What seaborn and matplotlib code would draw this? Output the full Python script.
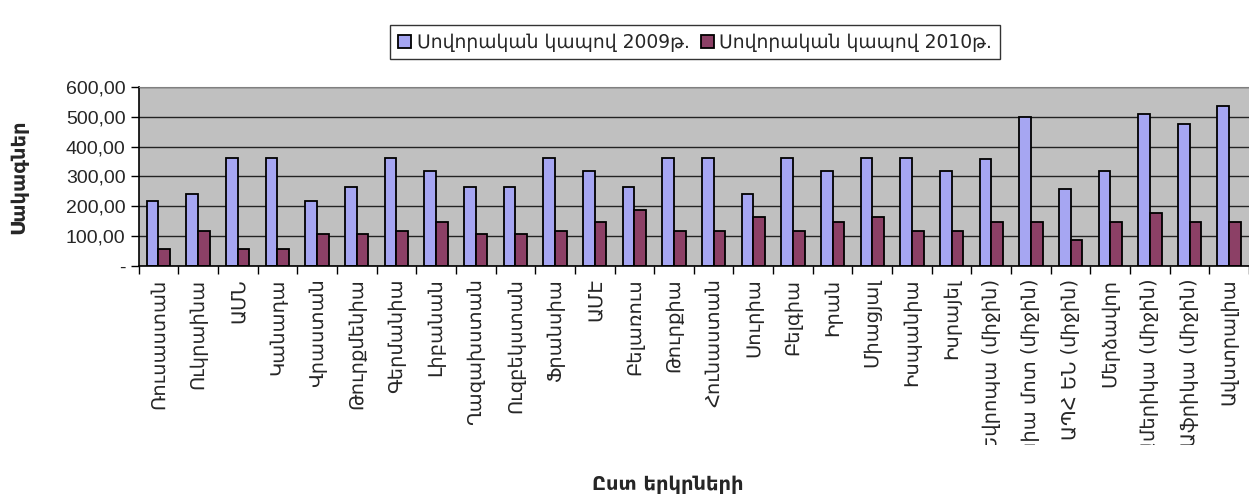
import numpy as np
import pandas as pd
import matplotlib
matplotlib.use("Agg")
import matplotlib.pyplot as plt
from matplotlib.ticker import FixedLocator, FuncFormatter
from matplotlib.transforms import Bbox
import seaborn as sns

countries = [
    "Ռուսաստան", "Ուկրաինա", "ԱՄՆ", "Կանադա", "Վրաստան", "Թուրքմենիա",
    "Գերմանիա", "Լիբանան", "Ղազախստան", "Ուզբեկստան", "Ֆրանսիա", "ԱՄԷ",
    "Բելառուս", "Թուրքիա", "Հունաստան", "Սուրիա", "Բելգիա", "Իրան",
    "Միացյալ", "Իսպանիա", "Իսրայել", "Եվրոպա (միջին)", "Ասիա մոտ (միջին)",
    "ԱՊՀ ԵՆ (միջին)", "Մերձավոր", "Ամերիկա (միջին)", "Աֆրիկա (միջին)",
    "Ավստրալիա",
]
rate_2009 = [217, 241, 363, 363, 217, 265, 363, 317, 265, 265, 363, 317, 265, 363,
             363, 241, 363, 317, 363, 363, 317, 358, 500, 259, 317, 511, 476, 535]
rate_2010 = [58, 117, 58, 58, 106, 106, 117, 146, 106, 106, 117, 146, 187, 117,
             117, 165, 117, 146, 165, 117, 117, 146, 146, 87, 146, 176, 146, 146]
series_names = ["Սովորական կապով 2009թ.", "Սովորական կապով 2010թ."]

df = pd.DataFrame({
    "country": countries * 2,
    "value": rate_2009 + rate_2010,
    "series": [series_names[0]] * len(countries) + [series_names[1]] * len(countries),
})

sns.set_style("white")
plt.rcParams['font.family'] = ['Liberation Sans', 'DejaVu Sans']

fig = plt.figure(figsize=(12.49, 4.97), dpi=100)
ax = fig.add_axes([0.111, 0.465, 0.889, 0.36])
ax.set_facecolor("#C0C0C0")

sns.barplot(data=df, x="country", y="value", hue="series",
            palette=["#9999FF", "#993366"], width=0.59,
            edgecolor="black", linewidth=1.3, ax=ax, legend=True)

ax.set_ylim(0, 600)
ax.set_xlim(-0.5, len(countries) - 0.5)
ax.set_yticks(range(0, 601, 100))
ax.yaxis.set_major_formatter(FuncFormatter(
    lambda v, p: "-" if v == 0 else f"{v:.2f}".replace(".", ",")))
ax.tick_params(axis="y", labelsize=14, length=6, width=1, color="black", direction="out", left=True)
ax.grid(axis="y", color="#222222", linewidth=1)
ax.set_axisbelow(True)

ax.set_xticks(range(len(countries)))
ax.set_xticklabels(countries, rotation=90, fontsize=14, family=['DejaVu Sans'])
ax.tick_params(axis="x", which="major", length=0, pad=9)
ax.xaxis.set_minor_locator(FixedLocator(np.arange(-0.5, len(countries), 1)))
ax.tick_params(axis="x", which="minor", length=6, width=1, color="black", bottom=True)

# long labels are cut off above the axis title, as in the original
clip = Bbox.from_extents(0, 52, 1249, 240)
for lab in ax.get_xticklabels():
    lab.set_clip_box(clip)
    lab.set_clip_on(True)

for s in ["left", "bottom"]:
    ax.spines[s].set_color("black")
    ax.spines[s].set_linewidth(1.2)
ax.spines["top"].set_color("#808080")
ax.spines["right"].set_visible(False)

ax.set_xlabel("")
ax.set_ylabel("Սակագներ", fontsize=14, fontweight="bold", family=['DejaVu Sans'])
ax.yaxis.set_label_coords(-0.099, 0.5)
fig.text(0.535, 0.015, "Ըստ երկրների", fontsize=14, fontweight="bold",
         ha="center", family=['DejaVu Sans'])

handles, labels = ax.get_legend_handles_labels()
ax.legend_.remove()
leg = fig.legend(handles, labels, loc="center", bbox_to_anchor=(0.5565, 0.915),
                 ncol=2, frameon=True, fancybox=False, edgecolor="black",
                 prop={'family': ['DejaVu Sans'], 'size': 13.5},
                 handlelength=0.7, handleheight=0.7, handletextpad=0.3,
                 columnspacing=0.6, borderpad=0.4)
leg.get_frame().set_linewidth(1)

fig.savefig("out.png", dpi=100)
